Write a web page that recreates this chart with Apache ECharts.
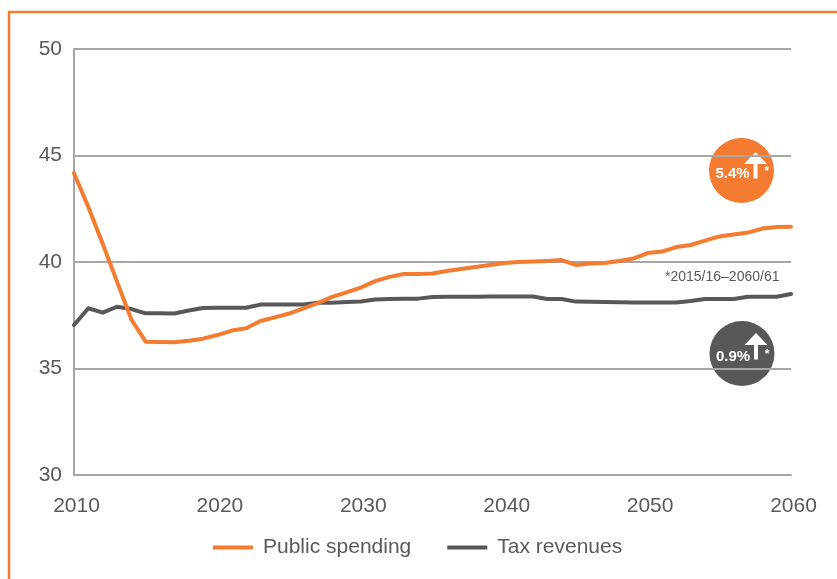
<!DOCTYPE html>
<html>
<head>
<meta charset="utf-8">
<script src="https://cdn.jsdelivr.net/npm/echarts@6/dist/echarts.min.js"></script>
<style>
  html, body { margin: 0; padding: 0; background: #ffffff; }
  #chart { width: 837px; height: 579px; }
</style>
</head>
<body>
<div id="chart"></div>
<script>
// Years on the horizontal axis
var years = [
  2010, 2011, 2012, 2013, 2014, 2015, 2016, 2017, 2018, 2019,
  2020, 2021, 2022, 2023, 2024, 2025, 2026, 2027, 2028, 2029,
  2030, 2031, 2032, 2033, 2034, 2035, 2036, 2037, 2038, 2039,
  2040, 2041, 2042, 2043, 2044, 2045, 2046, 2047, 2048, 2049,
  2050, 2051, 2052, 2053, 2054, 2055, 2056, 2057, 2058, 2059,
  2060
];

// Public spending, % of GDP
var publicSpending = [
  44.17, 42.58, 40.86, 39.08, 37.30, 36.26, 36.24, 36.23, 36.30, 36.40,
  36.57, 36.78, 36.89, 37.23, 37.40, 37.58, 37.82, 38.07, 38.36, 38.57,
  38.80, 39.10, 39.30, 39.44, 39.44, 39.46, 39.58, 39.67, 39.77, 39.86,
  39.95, 40.00, 40.02, 40.05, 40.09, 39.86, 39.93, 39.95, 40.05, 40.16,
  40.42, 40.49, 40.70, 40.80, 41.00, 41.20, 41.29, 41.38, 41.57, 41.64,
  41.66
];

// Tax revenues, % of GDP
var taxRevenues = [
  37.04, 37.83, 37.62, 37.90, 37.79, 37.59, 37.59, 37.58, 37.72, 37.84,
  37.85, 37.85, 37.85, 38.00, 38.00, 38.00, 38.00, 38.09, 38.09, 38.12,
  38.15, 38.24, 38.26, 38.27, 38.28, 38.36, 38.37, 38.37, 38.37, 38.38,
  38.38, 38.38, 38.38, 38.26, 38.26, 38.14, 38.13, 38.12, 38.11, 38.10,
  38.10, 38.10, 38.10, 38.17, 38.26, 38.26, 38.26, 38.37, 38.37, 38.37,
  38.50
];

// Axis ticks
var yTicks = { min: 30, max: 50, step: 5 };
var xTicks = { min: 2010, max: 2060, step: 10 };

// Change badges and footnote
var spendingChange = '5.4%';
var taxChange = '0.9%';
var footnote = '*2015/16\u20132060/61';

var ORANGE = '#f47b30';
var DARK = '#58585a';
var GRID = '#a6a6a6';
var TEXT = '#58595b';
var FONT = '"Liberation Sans", Arial, Helvetica, sans-serif';

function pairs(xs, ys) {
  return xs.map(function (x, i) { return [x, ys[i]]; });
}

// Up arrow next to a badge value
function arrow(cx, top, headBase, bottom) {
  return [
    {
      type: 'polygon',
      shape: { points: [[cx, top], [cx - 11.5, headBase], [cx + 11.5, headBase]] },
      style: { fill: '#ffffff' }
    },
    {
      type: 'rect',
      shape: { x: cx - 2, y: headBase - 1, width: 4, height: bottom - headBase + 1 },
      style: { fill: '#ffffff' }
    }
  ];
}

function badge(cx, cy, color, label, arrowTop) {
  var els = [
    { type: 'circle', shape: { cx: cx, cy: cy, r: 32.5 }, style: { fill: color } },
    {
      type: 'text',
      x: cx - 9, y: cy + 3,
      style: {
        text: label, fill: '#ffffff', font: 'bold 15px ' + FONT,
        align: 'center', verticalAlign: 'middle'
      }
    },
    {
      type: 'text',
      x: cx + 25, y: cy + 1,
      style: {
        text: '*', fill: '#ffffff', font: 'bold 12px ' + FONT,
        align: 'center', verticalAlign: 'middle'
      }
    }
  ];
  return els.concat(arrow(cx + 14, arrowTop, arrowTop + 12, arrowTop + 26.5));
}

var chart = echarts.init(document.getElementById('chart'), null, { renderer: 'canvas' });

var graphics = [
  {
    type: 'polyline',
    shape: { points: [[9, 600], [9, 12], [860, 12]] },
    style: { stroke: ORANGE, lineWidth: 2.5, fill: null }
  },
  {
    type: 'text',
    x: 665, y: 277,
    style: {
      text: footnote, fill: TEXT, font: '14px ' + FONT,
      verticalAlign: 'middle'
    }
  }
].concat(badge(741.5, 170.5, ORANGE, spendingChange, 152))
 .concat(badge(742, 353.5, DARK, taxChange, 333));

chart.setOption({
  animation: false,
  backgroundColor: '#ffffff',
  textStyle: { fontFamily: FONT },
  grid: { left: 74, right: 46, top: 49, bottom: 104, containLabel: false },
  legend: {
    left: 213,
    top: 537,
    padding: 0,
    itemWidth: 40,
    itemHeight: 4,
    itemGap: 36,
    icon: 'rect',
    textStyle: { fontSize: 21, color: TEXT, padding: [0, 0, 0, 5], fontFamily: FONT },
    data: ['Public spending', 'Tax revenues']
  },
  xAxis: {
    type: 'value',
    min: xTicks.min,
    max: xTicks.max,
    interval: xTicks.step,
    axisLine: { show: true, lineStyle: { color: GRID, width: 2 } },
    axisTick: { show: false },
    splitLine: { show: false },
    axisLabel: {
      fontSize: 21, color: TEXT, margin: 21, fontFamily: FONT,
      padding: [0, 0, 0, 5],
      formatter: function (v) { return String(v); }
    }
  },
  yAxis: {
    type: 'value',
    min: yTicks.min,
    max: yTicks.max,
    interval: yTicks.step,
    axisLine: { show: true, lineStyle: { color: GRID, width: 2 } },
    axisTick: { show: false },
    splitLine: { show: true, lineStyle: { color: GRID, width: 2 } },
    axisLabel: {
      fontSize: 21, color: TEXT, margin: 12, fontFamily: FONT,
      lineHeight: 21, padding: [12, 0, 0, 0]
    }
  },
  series: [
    {
      name: 'Public spending',
      type: 'line',
      data: pairs(years, publicSpending),
      showSymbol: false,
      color: ORANGE,
      lineStyle: { color: ORANGE, width: 4, cap: 'round', join: 'round' },
      z: 3
    },
    {
      name: 'Tax revenues',
      type: 'line',
      data: pairs(years, taxRevenues),
      showSymbol: false,
      color: DARK,
      lineStyle: { color: DARK, width: 4, cap: 'round', join: 'round' },
      z: 2
    }
  ],
  graphic: graphics
});
</script>
</body>
</html>
